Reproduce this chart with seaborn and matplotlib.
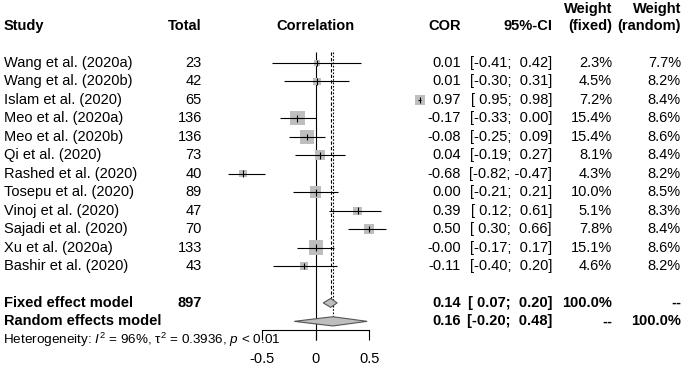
#!/usr/bin/env python3

import matplotlib.pyplot as plt
import numpy as np
import pandas as pd
import seaborn as sns

sns.set_style("white")
plt.rcParams['font.family'] = ['Liberation Sans', 'DejaVu Sans']
plt.rcParams['text.color'] = 'black'
plt.rcParams['mathtext.fontset'] = 'custom'
plt.rcParams['mathtext.rm'] = 'Liberation Sans'
plt.rcParams['mathtext.it'] = 'Liberation Sans:italic'

studies = ['Wang et al. (2020a)', 'Wang et al. (2020b)', 'Islam et al. (2020)',
           'Meo et al. (2020a)', 'Meo et al. (2020b)', 'Qi et al. (2020)',
           'Rashed et al. (2020)', 'Tosepu et al. (2020)', 'Vinoj et al. (2020)',
           'Sajadi et al. (2020)', 'Xu et al. (2020a)', 'Bashir et al. (2020)']
total = [23, 42, 65, 136, 136, 73, 40, 89, 47, 70, 133, 43]
cor = [0.01, 0.01, 0.97, -0.17, -0.08, 0.04, -0.68, 0.00, 0.39, 0.50, -0.0, -0.11]
ci_lo = [-0.41, -0.30, 0.95, -0.33, -0.25, -0.19, -0.82, -0.21, 0.12, 0.30, -0.17, -0.40]
ci_hi = [0.42, 0.31, 0.98, 0.00, 0.09, 0.27, -0.47, 0.21, 0.61, 0.66, 0.17, 0.20]
w_fixed = [2.3, 4.5, 7.2, 15.4, 15.4, 8.1, 4.3, 10.0, 5.1, 7.8, 15.1, 4.6]
w_random = [7.7, 8.2, 8.4, 8.6, 8.6, 8.4, 8.2, 8.5, 8.3, 8.4, 8.6, 8.2]

fixed_n = 897
fixed_est, fixed_lo, fixed_hi = 0.14, 0.07, 0.20
random_est, random_lo, random_hi = 0.16, -0.20, 0.48
xticks = [-0.5, 0, 0.5]

df = pd.DataFrame({'study': studies, 'total': total, 'cor': cor,
                   'lo': ci_lo, 'hi': ci_hi, 'wf': w_fixed, 'wr': w_random})
df['row'] = np.arange(len(df))
row_fixed = len(df) + 1
row_random = len(df) + 2
row_het = len(df) + 3

fig = plt.figure(figsize=(6.85, 3.66), dpi=100)
ax = fig.add_axes([0, 0, 1, 1])
ax.set_xlim(-2.945, 3.445)
ax.set_ylim(16.42, -3.415)

fs = 10.5
k = 6.8
sns.scatterplot(ax=ax, data=df, x='cor', y='row', size='wf', marker='s',
                sizes=(k * df['wf'].min(), k * df['wf'].max()),
                color='#bebebe', linewidth=0, legend=False, zorder=2)
ax.hlines(df['row'], df['lo'], df['hi'], color='black', lw=0.8, zorder=3)
ax.vlines(df['cor'], df['row'] - 0.18, df['row'] + 0.18, color='black', lw=0.8, zorder=3)

# reference lines
ax.vlines(0, -0.6, 15.0, color='black', lw=0.8, zorder=1)
ax.vlines(fixed_est, -0.6, row_fixed - 0.22, color='black', lw=0.8,
          linestyles=(0, (3, 2)), zorder=1)
ax.vlines(random_est, -0.6, row_random - 0.25, color='black', lw=0.8,
          linestyles=(0, (1.5, 1.5)), zorder=1)

# diamonds
for est, lo, hi, r, h in [(fixed_est, fixed_lo, fixed_hi, row_fixed, 0.24),
                          (random_est, random_lo, random_hi, row_random, 0.25)]:
    ax.fill([lo, est, hi, est], [r, r - h, r, r + h], facecolor='#bebebe',
            edgecolor='#555555', lw=0.8, zorder=2)

# x axis
for s in ['top', 'right', 'left']:
    ax.spines[s].set_visible(False)
ax.spines['bottom'].set_position(('data', 14.47))
ax.spines['bottom'].set_bounds(xticks[0], xticks[-1])
ax.spines['bottom'].set_linewidth(0.8)
ax.spines['bottom'].set_color('black')
ax.set_xticks(xticks)
ax.set_xticklabels(['-0.5', '0', '0.5'], fontsize=fs)
ax.tick_params(axis='x', direction='out', length=7.2, width=0.8, pad=8.5,
               bottom=True, colors='black')
ax.set_yticks([])
ax.set_xlabel('')
ax.set_ylabel('')

tr = ax.get_yaxis_transform()
px = lambda p: p / 685

def col_text(x, y, s, ha='right', bold=False, transform=tr):
    ax.text(x, y, s, transform=transform, ha=ha, va='center', fontsize=fs,
            fontweight='bold' if bold else 'normal', color='black')

# header
col_text(px(4), -2, 'Study', ha='left', bold=True)
col_text(px(202), -2, 'Total', bold=True)
col_text(0, -2, 'Correlation', ha='center', bold=True, transform=ax.transData)
col_text(px(461), -2, 'COR', bold=True)
col_text(px(552), -2, '95%-CI', bold=True)
col_text(px(612), -2.95, 'Weight', bold=True)
col_text(px(612), -2, '(fixed)', bold=True)
col_text(px(681), -2.95, 'Weight', bold=True)
col_text(px(681), -2, '(random)', bold=True)

fmt_ci = lambda lo, hi: '[{:5.2f}; {:5.2f}]'.format(lo, hi)
for _, r in df.iterrows():
    y = r['row']
    col_text(px(4), y, r['study'], ha='left')
    col_text(px(202), y, str(r['total']))
    col_text(px(461), y, '{:.2f}'.format(r['cor']))
    col_text(px(552), y, fmt_ci(r['lo'], r['hi']))
    col_text(px(612), y, '{:.1f}%'.format(r['wf']))
    col_text(px(681), y, '{:.1f}%'.format(r['wr']))

col_text(px(4), row_fixed, 'Fixed effect model', ha='left', bold=True)
col_text(px(202), row_fixed, str(fixed_n), bold=True)
col_text(px(461), row_fixed, '{:.2f}'.format(fixed_est), bold=True)
col_text(px(552), row_fixed, fmt_ci(fixed_lo, fixed_hi), bold=True)
col_text(px(612), row_fixed, '100.0%', bold=True)
col_text(px(681), row_fixed, '--', bold=True)

col_text(px(4), row_random, 'Random effects model', ha='left', bold=True)
col_text(px(461), row_random, '{:.2f}'.format(random_est), bold=True)
col_text(px(552), row_random, fmt_ci(random_lo, random_hi), bold=True)
col_text(px(612), row_random, '--', bold=True)
col_text(px(681), row_random, '100.0%', bold=True)

ax.text(px(3), row_het, r'Heterogeneity: $I^2$ = 96%, $\mathrm{\tau}^2$ = 0.3936, $p$ < 0.01',
        transform=tr, ha='left', va='center', fontsize=9.7, color='black')

plt.savefig('out.png', dpi=100)
